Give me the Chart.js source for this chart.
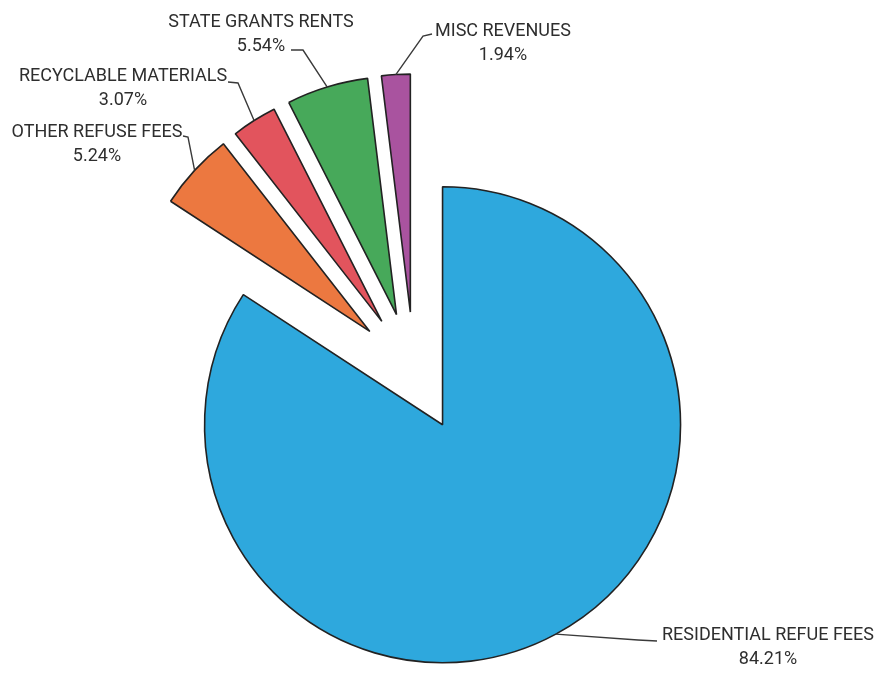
<!DOCTYPE html>
<html>
<head>
<meta charset="utf-8">
<script src="https://cdn.jsdelivr.net/npm/chart.js@4.4.1/dist/chart.umd.min.js"></script>
<style>
  html, body { margin: 0; padding: 0; background: #ffffff; }
  #wrap { width: 879px; height: 673px; position: relative; }
</style>
</head>
<body>
<div id="wrap"><canvas id="c" width="879" height="673"></canvas></div>
<script>
// ---- data ----
const categories = ['RESIDENTIAL REFUE FEES', 'OTHER REFUSE FEES', 'RECYCLABLE MATERIALS', 'STATE GRANTS RENTS', 'MISC REVENUES'];
const shares = [84.21, 5.24, 3.07, 5.54, 1.94];

// ---- styles / layout ----
const sliceColors = ['#2ea8dd', '#ec7840', '#e2545d', '#47a95a', '#a9539f'];
const EXPLODE = 60;          // px each slice is pulled out
const PIE_RADIUS = 238;      // px
const labelFont = '18px Roboto';
const labelColor = '#2e2e2e';
// label centre (first line), leader line: label end point, elbow point
const labelLayout = [
  { x: 768, y: 635, end: [657, 641], elbow: [638, 640] },
  { x: 97,  y: 132, end: [183, 136], elbow: [188, 137] },
  { x: 123, y: 76,  end: [228, 82],  elbow: [238, 83] },
  { x: 261, y: 22,  end: [291, 50],  elbow: [303, 50] },
  { x: 503, y: 31,  end: [432, 34],  elbow: [423, 36] }
];

const explodePlugin = {
  id: 'explode',
  afterDatasetUpdate(chart, args) {
    const meta = chart.getDatasetMeta(args.index);
    meta.data.forEach(arc => {
      const mid = (arc.startAngle + arc.endAngle) / 2;
      arc.x += Math.cos(mid) * EXPLODE;
      arc.y += Math.sin(mid) * EXPLODE;
    });
  }
};

const labelPlugin = {
  id: 'pieLabels',
  afterDraw(chart) {
    const ctx = chart.ctx;
    const meta = chart.getDatasetMeta(0);
    ctx.save();
    meta.data.forEach((arc, i) => {
      const L = labelLayout[i];
      const mid = (arc.startAngle + arc.endAngle) / 2;
      const ax = arc.x + Math.cos(mid) * arc.outerRadius;
      const ay = arc.y + Math.sin(mid) * arc.outerRadius;
      ctx.strokeStyle = '#3a3a3a';
      ctx.lineWidth = 1.4;
      ctx.beginPath();
      ctx.moveTo(ax, ay);
      ctx.lineTo(L.elbow[0], L.elbow[1]);
      ctx.lineTo(L.end[0], L.end[1]);
      ctx.stroke();
      ctx.fillStyle = labelColor;
      ctx.font = labelFont;
      ctx.textAlign = 'center';
      ctx.textBaseline = 'middle';
      ctx.fillText(categories[i], L.x, L.y);
      ctx.fillText(shares[i].toFixed(2) + '%', L.x, L.y + 24);
    });
    ctx.restore();
  }
};

new Chart(document.getElementById('c'), {
  type: 'pie',
  data: {
    labels: categories,
    datasets: [{
      data: shares,
      backgroundColor: sliceColors,
      borderColor: '#222222',
      borderWidth: 1.6,
      radius: PIE_RADIUS,
      clip: false
    }]
  },
  options: {
    responsive: false,
    animation: false,
    layout: { padding: { left: 0, right: 51, top: 71, bottom: 0 } },
    plugins: {
      legend: { display: false },
      tooltip: { enabled: true }
    }
  },
  plugins: [explodePlugin, labelPlugin]
});
</script>
</body>
</html>
